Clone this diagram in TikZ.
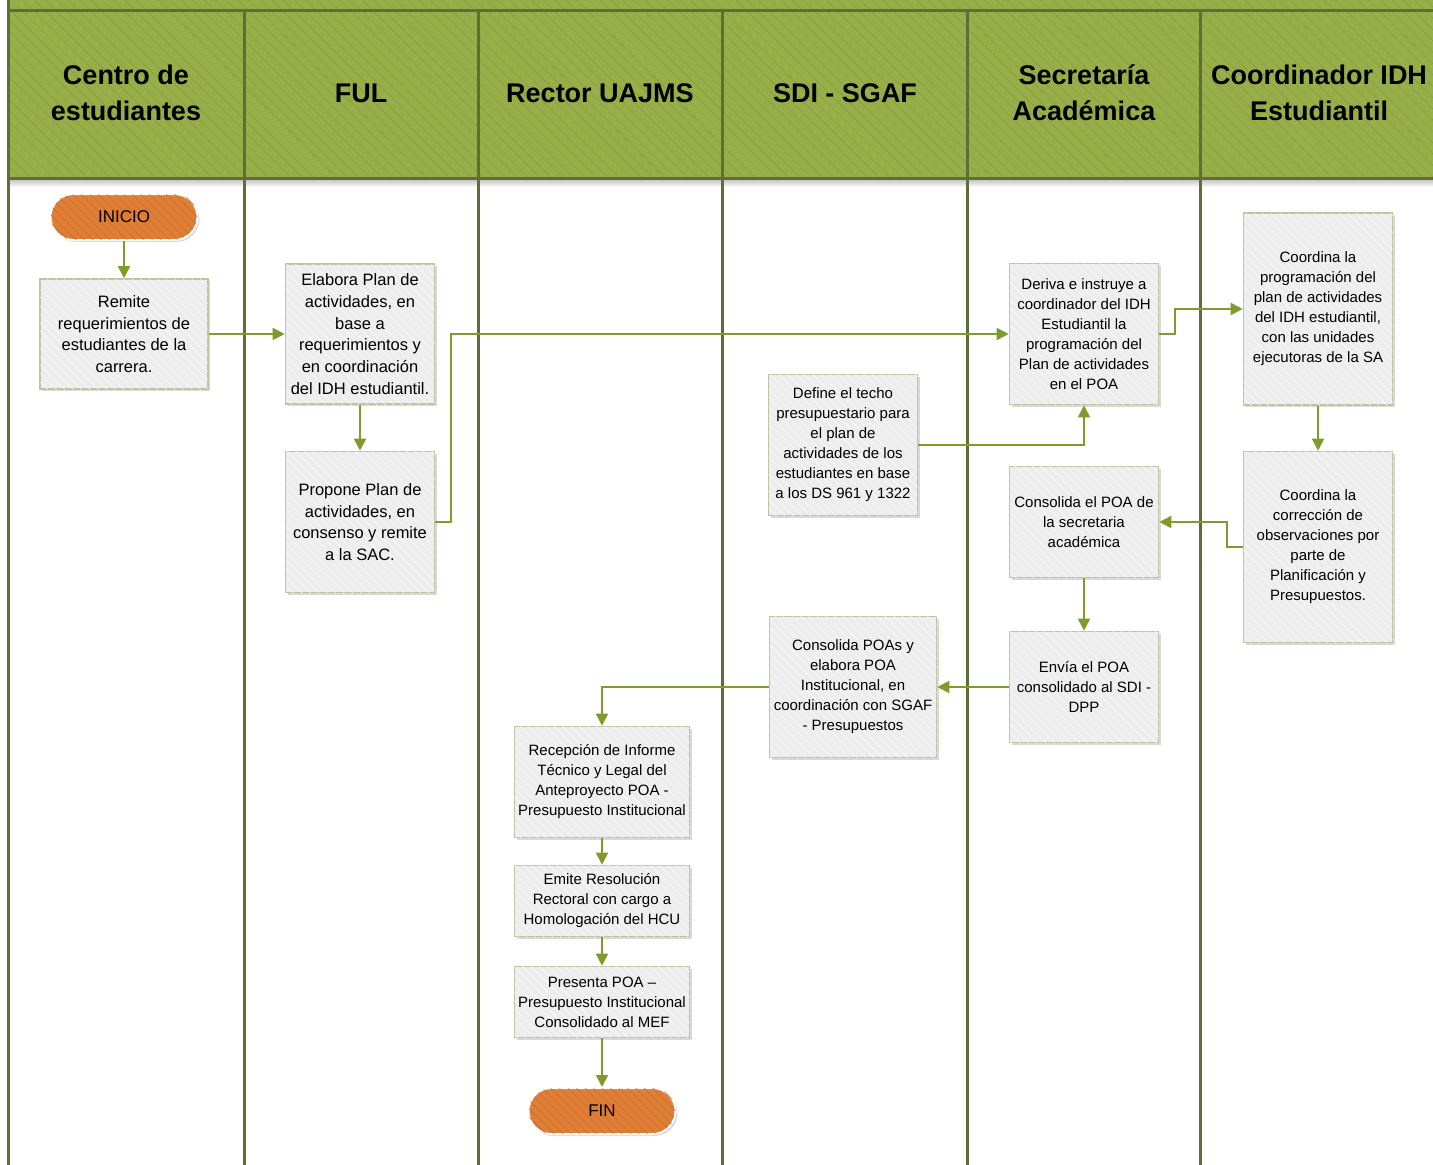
\documentclass[tikz,border=0pt]{standalone}
\usepackage{fontspec}
\setmainfont{Liberation Sans}
\usetikzlibrary{arrows.meta,shadows,patterns.meta}
\definecolor{headgreen}{RGB}{152,174,72}
\definecolor{lanedark}{RGB}{94,110,54}
\definecolor{flowgreen}{RGB}{126,156,44}
\definecolor{boxline}{RGB}{190,197,160}
\definecolor{boxfill}{RGB}{237,237,237}
\definecolor{termorange}{RGB}{224,126,54}
\tikzset{
  lane/.style={line width=3pt, draw=lanedark},
  headtext/.style={font=\fontsize{27}{36}\selectfont\bfseries, align=center},
  proc/.style={draw=boxline, line width=1.6pt, fill=boxfill, align=center, inner sep=0pt,
    drop shadow={shadow xshift=2pt, shadow yshift=-2pt, opacity=0.3},
    postaction={pattern={Lines[angle=-45,distance=6pt,line width=0.4pt]}, pattern color=white}},
  txtbig/.style={font=\fontsize{16.5}{21.7}\selectfont},
  txtsmall/.style={font=\fontsize{15}{20}\selectfont},
  term/.style={rounded corners=23pt, fill=termorange, draw=white, line width=2pt,
    minimum width=147pt, minimum height=46pt, font=\fontsize{17}{20}\selectfont,
    drop shadow={shadow xshift=2pt, shadow yshift=-2pt, opacity=0.3},
    postaction={pattern={Lines[angle=-45,distance=6pt,line width=0.4pt]}, pattern color=termorange!85!black}},
  flow/.style={draw=flowgreen, line width=1.8pt, -{Triangle[length=12pt,width=12pt]}}
}
\begin{document}
\begin{tikzpicture}[x=1pt, y=-1pt, line join=miter]
  \useasboundingbox (0,0) rectangle (1433,1165);
  % header band
  \fill[headgreen, postaction={pattern={Lines[angle=-45,distance=8pt,line width=0.5pt]}, pattern color=headgreen!88!black}] (8,-2) rectangle (1436,178);
  \shade[top color=black!25, bottom color=white] (10,179) rectangle (1436,187);
  \draw[lane] (8,10) -- (1436,10);
  \draw[lane] (8,178) -- (1436,178);
  \draw[lane] (8,-2) -- (8,1170);
  \foreach \lx in {244,478,722,967,1200} \draw[lane] (\lx,10) -- (\lx,1170);
  % lane titles
  \node[headtext] (hcentro) at (126,93) {Centro de\\estudiantes};
  \node[headtext] (hful) at (361,93) {FUL};
  \node[headtext] (hrector) at (600,93) {Rector UAJMS};
  \node[headtext] (hsdi) at (845,93) {SDI - SGAF};
  \node[headtext] (hsec) at (1084,93) {Secretaría\\Académica};
  \node[headtext] (hcoord) at (1319,93) {Coordinador IDH\\Estudiantil};
  % steps
  \node[term] (inicio) at (124,217) {INICIO};
  \node[proc, txtbig, minimum width=168pt, minimum height=110pt] (remite) at (124,334) {Remite\\requerimientos de\\estudiantes de la\\carrera.};
  \node[proc, txtbig, minimum width=149pt, minimum height=140pt] (elabora) at (360,334) {Elabora Plan de\\actividades, en\\base a\\requerimientos y\\en coordinación\\del IDH estudiantil.};
  \node[proc, txtbig, minimum width=149pt, minimum height=141pt] (propone) at (360,522) {Propone Plan de\\actividades, en\\consenso y remite\\a la SAC.};
  \node[proc, txtsmall, minimum width=149pt, minimum height=141pt] (techo) at (843,445) {Define el techo\\presupuestario para\\el plan de\\actividades de los\\estudiantes en base\\a los DS 961 y 1322};
  \node[proc, txtsmall, minimum width=149pt, minimum height=141pt] (deriva) at (1084,334) {Deriva e instruye a\\coordinador del IDH\\Estudiantil la\\programación del\\Plan de actividades\\en el POA};
  \node[proc, txtsmall, minimum width=149pt, minimum height=192pt] (coordprog) at (1318,309) {Coordina la\\programación del\\plan de actividades\\del IDH estudiantil,\\con las unidades\\ejecutoras de la SA};
  \node[proc, txtsmall, minimum width=149pt, minimum height=191pt] (coordcorr) at (1318,547) {Coordina la\\corrección de\\observaciones por\\parte de\\Planificación y\\Presupuestos.};
  \node[proc, txtsmall, minimum width=149pt, minimum height=111pt] (conssa) at (1084,522) {Consolida el POA de\\la secretaria\\académica};
  \node[proc, txtsmall, minimum width=149pt, minimum height=111pt] (envia) at (1084,687) {Envía el POA\\consolidado al SDI -\\DPP};
  \node[proc, txtsmall, minimum width=167pt, minimum height=141pt] (conspoa) at (853,687) {Consolida POAs y\\elabora POA\\Institucional, en\\coordinación con SGAF\\- Presupuestos};
  \node[proc, txtsmall, minimum width=175pt, minimum height=111pt] (recepcion) at (602,782) {Recepción de Informe\\Técnico y Legal del\\Anteproyecto POA -\\Presupuesto Institucional};
  \node[proc, txtsmall, minimum width=175pt, minimum height=71pt] (emite) at (602,901) {Emite Resolución\\Rectoral con cargo a\\Homologación del HCU};
  \node[proc, txtsmall, minimum width=175pt, minimum height=71pt] (presenta) at (602,1002) {Presenta POA –\\Presupuesto Institucional\\Consolidado al MEF};
  \node[term] (fin) at (602,1111) {FIN};
  % connectors
  \draw[flow] (inicio) -- (remite);
  \draw[flow] (remite) -- (elabora);
  \draw[flow] (elabora) -- (propone);
  \draw[flow] (propone.east) -- ++(16,0) |- (deriva.west);
  \draw[flow] (techo.east) -| (deriva.south);
  \draw[flow] (deriva.east) -- ++(16,0) |- (coordprog.west);
  \draw[flow] (coordprog) -- (coordcorr);
  \draw[flow] (coordcorr.west) -- ++(-16,0) |- (conssa.east);
  \draw[flow] (conssa) -- (envia);
  \draw[flow] (envia) -- (conspoa);
  \draw[flow] (conspoa.west) -| (recepcion.north);
  \draw[flow] (recepcion) -- (emite);
  \draw[flow] (emite) -- (presenta);
  \draw[flow] (presenta) -- (fin);
\end{tikzpicture}
\end{document}
